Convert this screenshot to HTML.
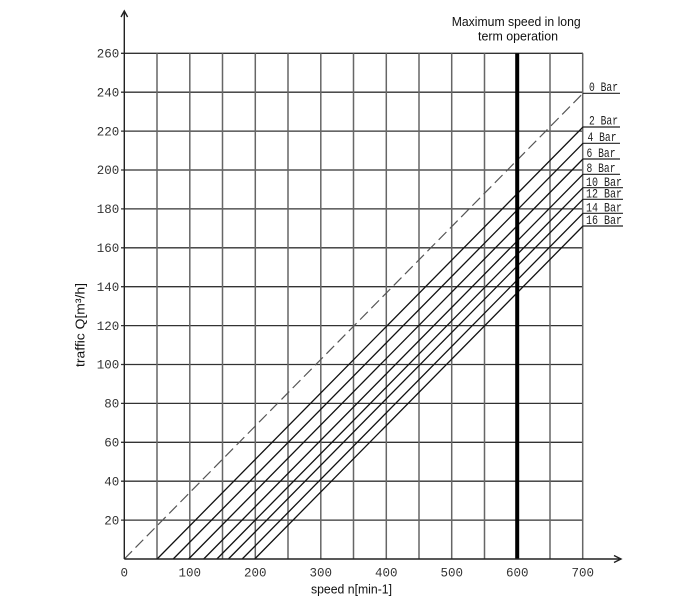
<!DOCTYPE html>
<html>
<head>
<meta charset="utf-8">
<style>
  html,body{margin:0;padding:0;background:#fff;}
  svg{display:block;}
  .tk{font-family:"Liberation Mono",monospace;font-size:12.5px;fill:#333;}
  .bar{font-family:"Liberation Mono",monospace;font-size:13px;fill:#222;}
  .sans{font-family:"Liberation Sans",sans-serif;fill:#111;}
</style>
</head>
<body>
<svg width="700" height="600" viewBox="0 0 700 600" xmlns="http://www.w3.org/2000/svg">
  <rect x="0" y="0" width="700" height="600" fill="#fff"/>

  <!-- horizontal grid lines -->
  <g stroke="#333" stroke-width="1.3">
    <line x1="121" y1="520.1" x2="583" y2="520.1"/>
    <line x1="121" y1="481.2" x2="583" y2="481.2"/>
    <line x1="121" y1="442.3" x2="583" y2="442.3"/>
    <line x1="121" y1="403.4" x2="583" y2="403.4"/>
    <line x1="121" y1="364.5" x2="583" y2="364.5"/>
    <line x1="121" y1="325.6" x2="583" y2="325.6"/>
    <line x1="121" y1="286.7" x2="583" y2="286.7"/>
    <line x1="121" y1="247.8" x2="583" y2="247.8"/>
    <line x1="121" y1="208.9" x2="583" y2="208.9"/>
    <line x1="121" y1="170.0" x2="583" y2="170.0"/>
    <line x1="121" y1="131.1" x2="583" y2="131.1"/>
    <line x1="121" y1="92.2" x2="583" y2="92.2"/>
    <line x1="121" y1="53.3" x2="583" y2="53.3"/>
  </g>

  <!-- vertical grid lines -->
  <g stroke="#666" stroke-width="1.5">
    <line x1="157.0" y1="53.3" x2="157.0" y2="559"/>
    <line x1="189.8" y1="53.3" x2="189.8" y2="559"/>
    <line x1="222.5" y1="53.3" x2="222.5" y2="559"/>
    <line x1="255.3" y1="53.3" x2="255.3" y2="559"/>
    <line x1="288.0" y1="53.3" x2="288.0" y2="559"/>
    <line x1="320.8" y1="53.3" x2="320.8" y2="559"/>
    <line x1="353.5" y1="53.3" x2="353.5" y2="559"/>
    <line x1="386.3" y1="53.3" x2="386.3" y2="559"/>
    <line x1="419.0" y1="53.3" x2="419.0" y2="559"/>
    <line x1="451.7" y1="53.3" x2="451.7" y2="559"/>
    <line x1="484.5" y1="53.3" x2="484.5" y2="559"/>
    <line x1="550.0" y1="53.3" x2="550.0" y2="559"/>
    <line x1="582.7" y1="53.3" x2="582.7" y2="559"/>
  </g>

  <!-- dashed 0 Bar line -->
  <line x1="124.3" y1="559" x2="583" y2="93.3" stroke="#555" stroke-width="1.2" stroke-dasharray="11 5"/>

  <!-- solid pressure lines -->
  <g stroke="#111" stroke-width="1.3">
    <line x1="157.1" y1="559" x2="583" y2="127"/>
    <line x1="173.2" y1="559" x2="583" y2="143.3"/>
    <line x1="188.6" y1="559" x2="583" y2="159"/>
    <line x1="203.7" y1="559" x2="583" y2="174.3"/>
    <line x1="216.9" y1="559" x2="583" y2="187.7"/>
    <line x1="228.4" y1="559" x2="583" y2="199.3"/>
    <line x1="242.2" y1="559" x2="583" y2="213.3"/>
    <line x1="254.7" y1="559" x2="583" y2="226"/>
  </g>

  <!-- thick max speed line -->
  <line x1="517.2" y1="53.3" x2="517.2" y2="559" stroke="#000" stroke-width="4"/>

  <!-- axes -->
  <g stroke="#222" stroke-width="1.4" fill="none">
    <line x1="124.3" y1="559" x2="124.3" y2="11"/>
    <polyline points="121,17 124.3,11 127.6,17"/>
    <line x1="124.3" y1="559" x2="621" y2="559"/>
    <polyline points="614,555.5 621,559 614,562.5"/>
  </g>

  <!-- bar label underlines -->
  <g stroke="#222" stroke-width="1.2">
    <line x1="583" y1="93.3" x2="620" y2="93.3"/>
    <line x1="583" y1="127" x2="620" y2="127"/>
    <line x1="583" y1="143.3" x2="620" y2="143.3"/>
    <line x1="583" y1="159" x2="620" y2="159"/>
    <line x1="583" y1="174.3" x2="620" y2="174.3"/>
    <line x1="583" y1="187.7" x2="623" y2="187.7"/>
    <line x1="583" y1="199.3" x2="623" y2="199.3"/>
    <line x1="583" y1="213.3" x2="623" y2="213.3"/>
    <line x1="583" y1="226" x2="623" y2="226"/>
  </g>

  <!-- bar labels -->
  <g class="bar">
    <text x="589" y="91" textLength="29" lengthAdjust="spacingAndGlyphs">0 Bar</text>
    <text x="589" y="124.7" textLength="29" lengthAdjust="spacingAndGlyphs">2 Bar</text>
    <text x="587.5" y="141" textLength="29" lengthAdjust="spacingAndGlyphs">4 Bar</text>
    <text x="586.5" y="156.8" textLength="29" lengthAdjust="spacingAndGlyphs">6 Bar</text>
    <text x="586.5" y="172" textLength="29" lengthAdjust="spacingAndGlyphs">8 Bar</text>
    <text x="586" y="186" textLength="36" lengthAdjust="spacingAndGlyphs">10 Bar</text>
    <text x="586" y="197.5" textLength="36" lengthAdjust="spacingAndGlyphs">12 Bar</text>
    <text x="586" y="211.5" textLength="36" lengthAdjust="spacingAndGlyphs">14 Bar</text>
    <text x="586" y="224" textLength="36" lengthAdjust="spacingAndGlyphs">16 Bar</text>
  </g>

  <!-- y tick labels -->
  <g class="tk" text-anchor="end">
    <text x="119.3" y="524.3">20</text>
    <text x="119.3" y="485.4">40</text>
    <text x="119.3" y="446.5">60</text>
    <text x="119.3" y="407.6">80</text>
    <text x="119.3" y="368.7">100</text>
    <text x="119.3" y="329.8">120</text>
    <text x="119.3" y="290.9">140</text>
    <text x="119.3" y="252.0">160</text>
    <text x="119.3" y="213.1">180</text>
    <text x="119.3" y="174.2">200</text>
    <text x="119.3" y="135.3">220</text>
    <text x="119.3" y="96.4">240</text>
    <text x="119.3" y="57.5">260</text>
  </g>

  <!-- x tick labels -->
  <g class="tk" text-anchor="middle">
    <text x="124.3" y="576.5">0</text>
    <text x="189.8" y="576.5">100</text>
    <text x="255.3" y="576.5">200</text>
    <text x="320.8" y="576.5">300</text>
    <text x="386.3" y="576.5">400</text>
    <text x="451.7" y="576.5">500</text>
    <text x="517.2" y="576.5">600</text>
    <text x="582.7" y="576.5">700</text>
  </g>

  <!-- axis titles -->
  <text class="sans" x="311" y="593.5" font-size="12.5" textLength="81" lengthAdjust="spacingAndGlyphs">speed n[min-1]</text>
  <text class="sans" font-size="12.5" text-anchor="middle" transform="translate(84.5,325) rotate(-90)" textLength="84" lengthAdjust="spacingAndGlyphs">traffic Q[m³/h]</text>

  <!-- title -->
  <text class="sans" x="516.2" y="26" font-size="13" text-anchor="middle" textLength="129" lengthAdjust="spacingAndGlyphs">Maximum speed in long</text>
  <text class="sans" x="518" y="40.5" font-size="13" text-anchor="middle" textLength="80" lengthAdjust="spacingAndGlyphs">term operation</text>
</svg>
</body>
</html>
